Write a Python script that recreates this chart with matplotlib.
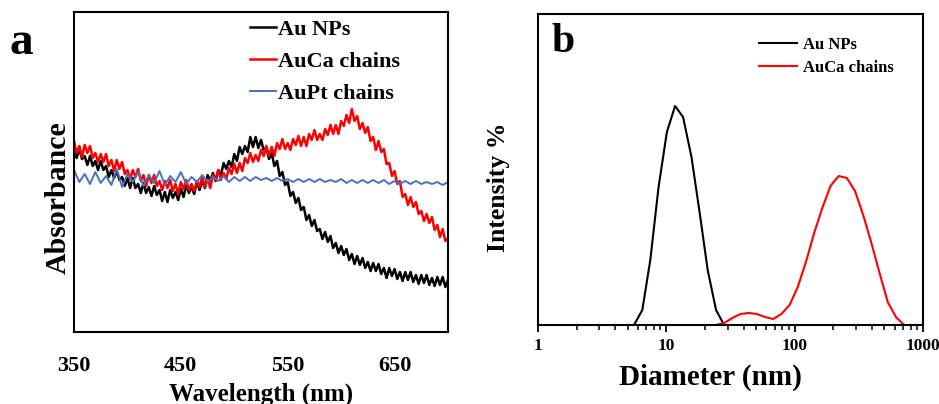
import matplotlib
matplotlib.use("Agg")
import matplotlib.pyplot as plt
from matplotlib.ticker import FixedLocator, FixedFormatter, NullFormatter, LogLocator

plt.rcParams['font.family'] = ['Liberation Serif', 'DejaVu Serif']
plt.rcParams['font.weight'] = 'bold'

# ---- panel a: UV-vis spectra (arbitrary absorbance units) ----
wl = [350 + 2.5 * i for i in range(141)]
wl_pt = list(range(350, 701, 5))

au_nps = [1.84, 1.74, 1.83, 1.73, 1.76, 1.67, 1.76, 1.66, 1.71, 1.62,
          1.71, 1.62, 1.66, 1.55, 1.62, 1.54, 1.61, 1.52, 1.55, 1.46,
          1.54, 1.44, 1.54, 1.44, 1.48, 1.39, 1.49, 1.39, 1.45, 1.36,
          1.46, 1.37, 1.42, 1.31, 1.40, 1.30, 1.42, 1.34, 1.40, 1.32,
          1.43, 1.35, 1.47, 1.39, 1.45, 1.38, 1.50, 1.42, 1.51, 1.44,
          1.57, 1.51, 1.59, 1.51, 1.62, 1.57, 1.69, 1.63, 1.71, 1.65,
          1.78, 1.71, 1.85, 1.78, 1.86, 1.80, 1.95, 1.85, 1.95, 1.84,
          1.92, 1.82, 1.84, 1.73, 1.79, 1.66, 1.71, 1.56, 1.60, 1.47,
          1.50, 1.36, 1.40, 1.29, 1.34, 1.22, 1.25, 1.12, 1.17, 1.06,
          1.12, 1.01, 1.03, 0.93, 1.00, 0.90, 0.96, 0.84, 0.89, 0.79,
          0.86, 0.77, 0.83, 0.72, 0.78, 0.68, 0.76, 0.67, 0.74, 0.64,
          0.70, 0.61, 0.69, 0.61, 0.68, 0.58, 0.64, 0.54, 0.64, 0.56,
          0.63, 0.53, 0.60, 0.51, 0.60, 0.52, 0.60, 0.50, 0.57, 0.48,
          0.57, 0.49, 0.57, 0.47, 0.54, 0.46, 0.55, 0.47, 0.55, 0.45,
          0.52]

auca = [1.91, 1.79, 1.86, 1.75, 1.87, 1.79, 1.86, 1.74, 1.79, 1.70,
        1.78, 1.70, 1.78, 1.66, 1.72, 1.61, 1.72, 1.63, 1.70, 1.58,
        1.62, 1.53, 1.62, 1.55, 1.63, 1.51, 1.57, 1.46, 1.57, 1.49,
        1.57, 1.46, 1.51, 1.42, 1.51, 1.44, 1.52, 1.41, 1.48, 1.38,
        1.50, 1.43, 1.52, 1.42, 1.48, 1.41, 1.51, 1.45, 1.55, 1.45,
        1.53, 1.44, 1.57, 1.52, 1.62, 1.52, 1.59, 1.53, 1.64, 1.58,
        1.68, 1.59, 1.69, 1.61, 1.74, 1.69, 1.79, 1.70, 1.77, 1.71,
        1.82, 1.76, 1.86, 1.76, 1.85, 1.76, 1.89, 1.83, 1.93, 1.83,
        1.89, 1.82, 1.93, 1.87, 1.96, 1.86, 1.95, 1.86, 1.98, 1.92,
        2.02, 1.92, 1.98, 1.92, 2.03, 1.97, 2.07, 1.98, 2.07, 1.98,
        2.11, 2.06, 2.17, 2.09, 2.23, 2.11, 2.16, 2.03, 2.09, 1.99,
        2.05, 1.91, 1.95, 1.82, 1.91, 1.80, 1.83, 1.68, 1.69, 1.56,
        1.61, 1.48, 1.51, 1.35, 1.38, 1.27, 1.35, 1.25, 1.30, 1.18,
        1.21, 1.11, 1.18, 1.09, 1.15, 1.02, 1.07, 0.95, 1.03, 0.91,
        0.94]

aupt = [1.62, 1.50, 1.58, 1.48, 1.60, 1.49, 1.56, 1.47, 1.63, 1.45,
        1.58, 1.50, 1.60, 1.46, 1.57, 1.49, 1.61, 1.47, 1.56, 1.50,
        1.60, 1.48, 1.55, 1.50, 1.57, 1.50, 1.55, 1.51, 1.56, 1.50,
        1.55, 1.51, 1.55, 1.51, 1.55, 1.52, 1.54, 1.51, 1.54, 1.51,
        1.53, 1.50, 1.53, 1.50, 1.53, 1.50, 1.53, 1.50, 1.52, 1.50,
        1.53, 1.49, 1.52, 1.49, 1.52, 1.49, 1.52, 1.49, 1.52, 1.48,
        1.51, 1.48, 1.51, 1.48, 1.51, 1.48, 1.50, 1.48, 1.50, 1.47,
        1.50]

wl_ticks = [350, 450, 550, 650]

# ---- panel b: DLS size distributions ----
d_au = [5.6, 6.5, 7.5, 8.7, 10.1, 11.7, 13.5, 15.7, 18.2, 21.0, 24.4, 28.2]
int_au = [0.0, 1.5, 6.5, 13.8, 19.3, 21.9, 20.8, 16.8, 11.2, 5.5, 1.5, 0.0]

d_auca = [24.4, 28.2, 32.7, 37.8, 43.8, 50.7, 58.8, 68.1, 78.8, 91.3,
          105.7, 122.4, 141.8, 164.2, 190.1, 220.2, 255.0, 295.3, 342.0,
          396.1, 458.7, 531.2, 615.1, 712.4]
int_auca = [0.0, 0.2, 0.7, 1.1, 1.2, 1.1, 0.8, 0.6, 1.1, 2.0,
            3.8, 6.3, 9.2, 11.7, 13.9, 14.9, 14.7, 13.4, 11.0,
            8.2, 5.2, 2.3, 0.8, 0.0]

d_ticks = [1, 10, 100, 1000]

fig = plt.figure(figsize=(9.39, 4.04), dpi=100)

# panel a
ax1 = fig.add_axes([74/939, 72/404, 374/939, 320/404])
ax1.plot(wl, au_nps, color='black', lw=1.8, label='Au NPs')
ax1.plot(wl, auca, color='#ff0000', lw=1.8, label='AuCa chains')
ax1.plot(wl_pt, aupt, color='#4472c4', lw=1.4, label='AuPt chains')
ax1.set_xlim(350, 700)
ax1.set_ylim(0, 3.2)
ax1.set_xticks(wl_ticks)
ax1.set_xticklabels([str(t) for t in wl_ticks], fontsize=16, fontweight='bold')
ax1.tick_params(axis='x', length=0, pad=17)
ax1.set_yticks([])
for s in ax1.spines.values():
    s.set_linewidth(1.5)
ax1.legend(loc='upper left', bbox_to_anchor=(0.47, 0.976), frameon=False,
           handlelength=1.2, handletextpad=0.05,
           labelspacing=0.5, borderpad=0, borderaxespad=0,
           prop={'size': 16, 'weight': 'bold'})
fig.text(58/939, 1 - 198/404, 'Absorbance', rotation=90, ha='center', va='center',
         fontsize=21.5, fontweight='bold')
fig.text(261/939, 1 - 394/404, 'Wavelength (nm)', ha='center', va='center',
         fontsize=18, fontweight='bold')
fig.text(21/939, 1 - 43/404, 'a', ha='center', va='center', fontsize=34,
         fontweight='bold')

# panel b
ax2 = fig.add_axes([538/939, 79/404, 385/939, 311/404])
ax2.plot(d_au, int_au, color='black', lw=1.5, label='Au NPs')
ax2.plot(d_auca, int_auca, color='#ff0000', lw=1.5, label='AuCa chains')
ax2.set_xscale('log')
ax2.set_xlim(1, 1000)
ax2.set_ylim(0, 31.1)
ax2.xaxis.set_major_locator(FixedLocator(d_ticks))
ax2.xaxis.set_major_formatter(FixedFormatter([str(t) for t in d_ticks]))
ax2.xaxis.set_minor_locator(LogLocator(base=10, subs=range(2, 10)))
ax2.xaxis.set_minor_formatter(NullFormatter())
ax2.tick_params(axis='x', which='major', direction='out', length=5, width=1.3,
                labelsize=12.5, pad=4)
ax2.tick_params(axis='x', which='minor', direction='out', length=3.5, width=1.1)
for lbl in ax2.get_xticklabels():
    lbl.set_fontweight('bold')
ax2.set_yticks([])
for s in ax2.spines.values():
    s.set_linewidth(1.5)
ax2.legend(loc='upper left', bbox_to_anchor=(0.574, 0.925), frameon=False,
           handlelength=2.3, handletextpad=0.35, labelspacing=0.38,
           borderpad=0, borderaxespad=0, prop={'size': 12, 'weight': 'bold'})
fig.text(498/939, 1 - 187/404, 'Intensity %', rotation=90, ha='center', va='center',
         fontsize=18.5, fontweight='bold')
fig.text(710/939, 1 - 377/404, 'Diameter (nm)', ha='center', va='center',
         fontsize=21, fontweight='bold')
fig.text(563/939, 1 - 42/404, 'b', ha='center', va='center', fontsize=30,
         fontweight='bold')

fig.savefig('out.png', dpi=100)
